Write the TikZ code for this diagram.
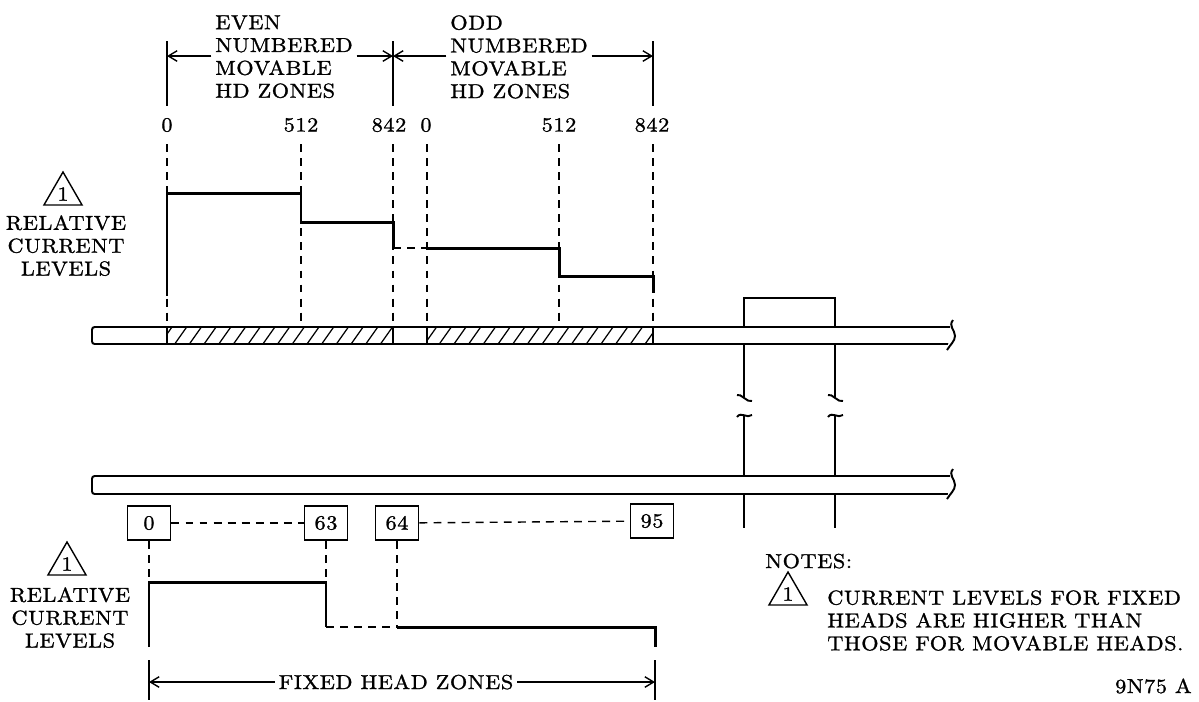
\documentclass[tikz,border=0pt]{standalone}
\usepackage{fontspec}
\setmainfont{lmroman10-regular.otf}[LetterSpace=3, FakeStretch=1.1, FakeBold=1.2]
\usetikzlibrary{arrows.meta,shapes.geometric}

\tikzset{
  lbl/.style={font=\fontsize{11.5}{13}\selectfont, inner sep=0pt},
  curlevel/.style={line width=1.7pt},
  guide/.style={line width=0.8pt, dash pattern=on 4.5pt off 3.5pt},
  dimline/.style={line width=0.8pt},
  dimarrow/.style={dimline, -{Straight Barb[length=5pt,width=6pt]}, shorten <=2pt},
  bar/.style={line width=1.1pt, fill=white},
  post/.style={line width=1.1pt},
  zonebox/.style={lbl, draw, line width=1.1pt, minimum width=0.86cm, minimum height=0.68cm},
  note/.style={lbl, draw, regular polygon, regular polygon sides=3, minimum size=0.88cm, line width=0.8pt},
}

\begin{document}
\begin{tikzpicture}[x=0.02cm, y=-0.02cm]
  \useasboundingbox (0,0) rectangle (1199,701);

  % the two drums
  \draw[bar, rounded corners=1.5pt] (950,327) -- (92,327) -- (92,344) -- (950,344);
  \draw[bar] (953,320) .. controls (948,326) and (955,330) .. (955,336) .. controls (955,341) and (950,345) .. (947,350);
  \draw[bar, rounded corners=1.5pt] (950,476) -- (92,476) -- (92,494) -- (950,494);
  \draw[bar] (953,469) .. controls (948,475) and (955,479) .. (955,485) .. controls (955,490) and (950,494) .. (947,499);

  % hatched movable head zones
  \begin{scope}
    \clip (167,327) rectangle (393,344) (427,327) rectangle (653,344);
    \foreach \x in {160,174.7,...,660}
      \draw[line width=0.7pt] (\x,344) -- (\x+12,327);
  \end{scope}
  \foreach \x in {167,393,427,653}
    \draw[line width=0.8pt] (\x,327) -- (\x,344);

  % movable head zone headings
  \node[lbl, align=left, anchor=north west] (even) at (215,15) {EVEN\\NUMBERED\\MOVABLE\\HD ZONES};
  \node[lbl, align=left, anchor=north west] (odd) at (450,15) {ODD\\NUMBERED\\MOVABLE\\HD ZONES};

  \coordinate (m0) at (167,144);
  \coordinate (m1) at (301,144);
  \coordinate (m2) at (393,144);
  \coordinate (m3) at (427,144);
  \coordinate (m4) at (559,144);
  \coordinate (m5) at (653,144);
  \coordinate (drum1) at (0,327);

  \foreach \i in {0,2,5}
    \draw[dimline] (m\i |- 0,41) -- (m\i |- 0,106);
  \draw[dimarrow] (even.west |- 0,56) -- (m0 |- 0,56);
  \draw[dimarrow] (even.east |- 0,56) -- (m2 |- 0,56);
  \draw[dimarrow] (odd.west |- 0,56) -- (m2 |- 0,56);
  \draw[dimarrow] (odd.east |- 0,56) -- (m5 |- 0,56);

  \node[lbl] (t0) at (167,125) {0};
  \node[lbl] (t1) at (301,125) {512};
  \node[lbl] (t2) at (389,125) {842};
  \node[lbl] (t3) at (426,125) {0};
  \node[lbl] (t4) at (559,125) {512};
  \node[lbl] (t5) at (652,125) {842};

  \foreach \i in {0,...,5}
    \draw[guide] (m\i) -- (m\i |- drum1);

  % movable head current levels
  \draw[curlevel] (m0 |- 0,296) -- (m0 |- 0,193) -- (m1 |- 0,193) -- (m1 |- 0,222) -- (m2 |- 0,222) -- (m2 |- 0,248);
  \draw[guide] (m2 |- 0,248) -- (m3 |- 0,248);
  \draw[curlevel] (m3 |- 0,248) -- (m4 |- 0,248) -- (m4 |- 0,276) -- (m5 |- 0,276) -- (m5 |- 0,293);

  \node[note] (tri1) at (63,194) {1};
  \node[lbl, align=center, anchor=north] (rel1) at (66,215) {RELATIVE\\CURRENT\\LEVELS};

  % fixed head posts
  \draw[post] (744,327) -- (744,298) -- (835,298) -- (835,327);
  \foreach \x in {744,835} {
    \draw[post] (\x,344) -- (\x,398);
    \draw[post] (\x-7,395) .. controls (\x-3,393) and (\x+3,403) .. (\x+8,401);
    \draw[post] (\x-7,417) .. controls (\x-3,411) and (\x+3,419) .. (\x+8,415);
    \draw[post] (\x,415) -- (\x,476);
    \draw[post] (\x,494) -- (\x,528);
  }

  % fixed head zones
  \node[zonebox] (f0) at (149,523) {0};
  \node[zonebox] (f63) at (326,523) {63};
  \node[zonebox] (f64) at (397,523) {64};
  \node[zonebox] (f95) at (652,521) {95};
  \draw[guide] (f0) -- (f63);
  \draw[guide] (f64) -- (f95);

  \coordinate (p0) at (149,647);
  \coordinate (p1) at (149,582);
  \coordinate (p2) at (326,582);
  \coordinate (p3) at (326,627);
  \coordinate (p4) at (397,627);
  \coordinate (p5) at (655,627);
  \coordinate (p6) at (655,647);
  \draw[guide] (f0) -- (p1);
  \draw[guide] (f63) -- (p2);
  \draw[guide] (f64) -- (p4);
  \draw[curlevel] (p0) -- (p1) -- (p2) -- (p3);
  \draw[guide] (p3) -- (p4);
  \draw[curlevel] (p4) -- (p5) -- (p6);

  \node[note] (tri2) at (67,564) {1};
  \node[lbl, align=center, anchor=north] (rel2) at (70,587) {RELATIVE\\CURRENT\\LEVELS};

  \node[lbl] (fixed) at (396,682) {FIXED HEAD ZONES};
  \draw[dimline] (p0 |- 0,660) -- (p0 |- 0,700);
  \draw[dimline] (p6 |- 0,660) -- (p6 |- 0,700);
  \draw[dimarrow] (fixed.west) -- (fixed.west -| p0);
  \draw[dimarrow] (fixed.east) -- (fixed.east -| p6);

  % notes
  \node[lbl, anchor=base west] (notes) at (765,568) {NOTES:};
  \node[note] (tri3) at (788,594) {1};
  \node[lbl, align=left, anchor=north west] (notetext) at (827,590) {CURRENT LEVELS FOR FIXED\\HEADS ARE HIGHER THAN\\THOSE FOR MOVABLE HEADS.};
  \node[lbl, anchor=base east] (dwg) at (1192,693) {9N75 A};
\end{tikzpicture}
\end{document}
